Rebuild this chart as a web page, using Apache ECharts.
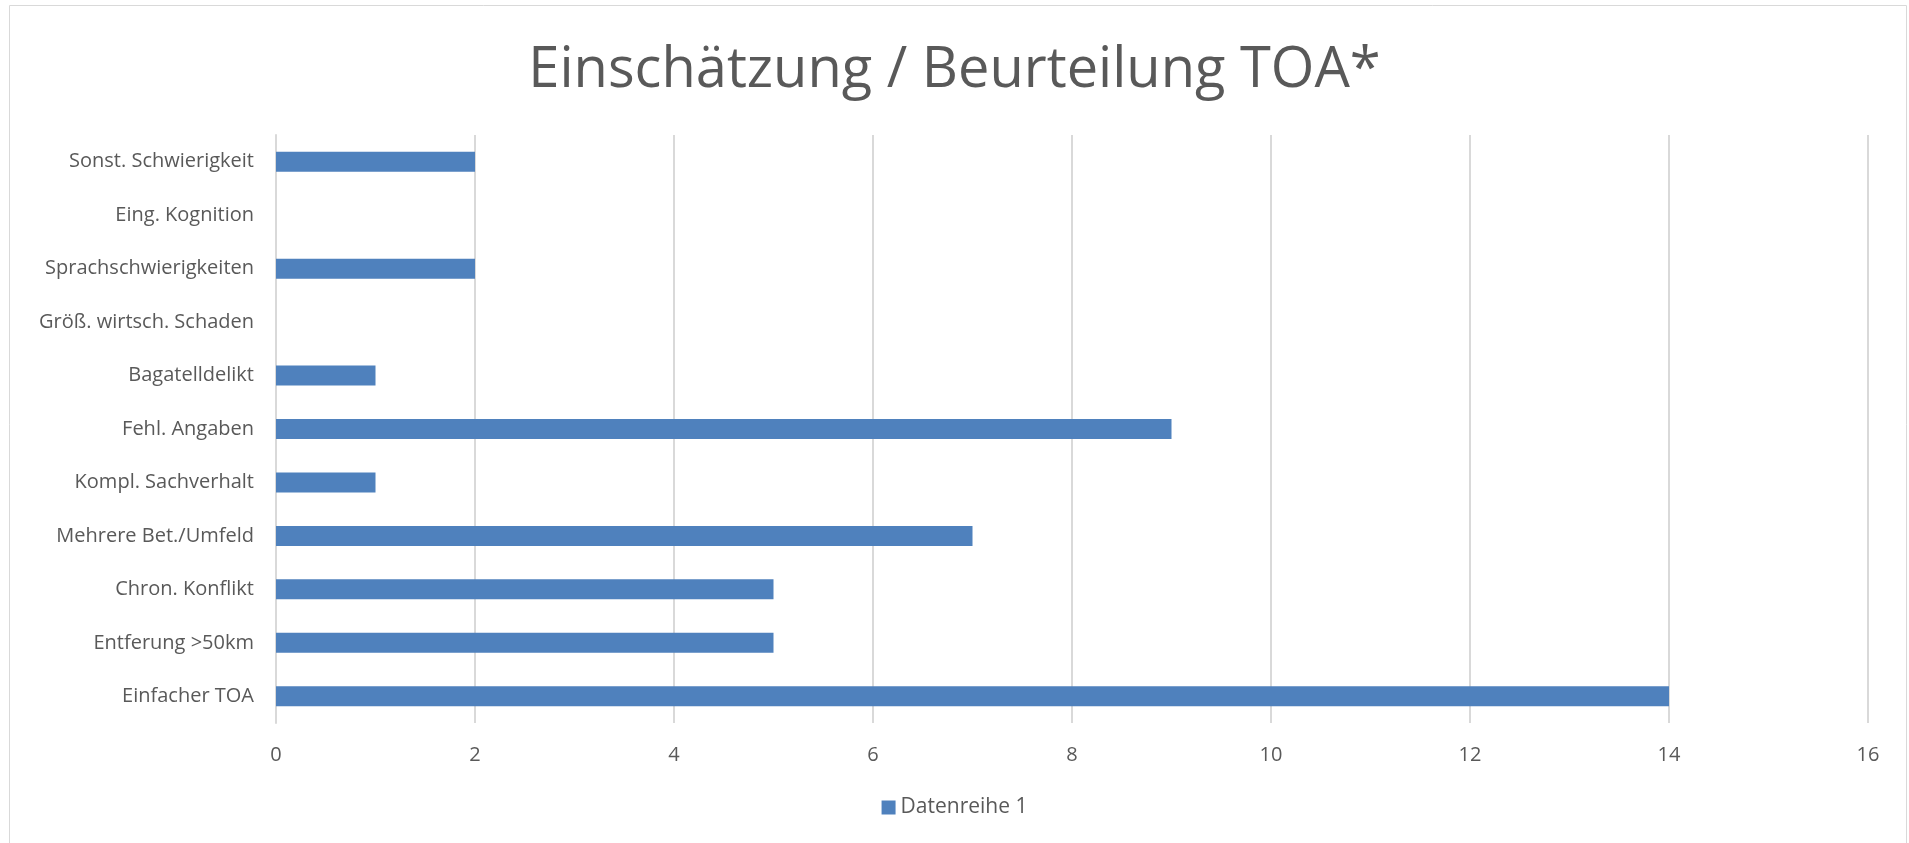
<!DOCTYPE html>
<html>
<head>
<meta charset="utf-8">
<script src="https://cdn.jsdelivr.net/npm/echarts@6/dist/echarts.min.js"></script>
<style>
  html, body { margin: 0; padding: 0; background: #fff; }
  #main { width: 1909px; height: 843px; }
</style>
</head>
<body>
<div id="main"></div>
<script>
// Kategorien von unten nach oben (wie ECharts die y-Achse aufbaut)
var categories = ['Einfacher TOA', 'Entferung >50km', 'Chron. Konflikt', 'Mehrere Bet./Umfeld',
  'Kompl. Sachverhalt', 'Fehl. Angaben', 'Bagatelldelikt', 'Größ. wirtsch. Schaden',
  'Sprachschwierigkeiten', 'Eing. Kognition', 'Sonst. Schwierigkeit'];
var values = [14, 5, 5, 7, 1, 9, 1, 0, 2, 0, 2];
var seriesName = 'Datenreihe 1';

var myChart = echarts.init(document.getElementById('main'));
var option = {
    textStyle: { fontFamily: 'Open Sans' },
    title: {
        text: 'Einschätzung / Beurteilung TOA*',
        left: 'center',
        top: 38,
        textStyle: {
            color: '#595959',
            fontSize: 56,
            fontWeight: 'normal',
            fontFamily: 'Open Sans'
        }
    },
    graphic: [{
        type: 'rect',
        shape: { x: 9.5, y: 5.5, width: 1897, height: 850 },
        style: { fill: 'none', stroke: '#d9d9d9', lineWidth: 1 },
        silent: true
    }],
    legend: {
        data: [seriesName],
        bottom: 20,
        left: 'center',
        icon: 'rect',
        itemWidth: 14,
        itemHeight: 14,
        itemGap: 6,
        textStyle: { color: '#595959', fontSize: 21 }
    },
    grid: {
        left: 276,
        right: 41,
        top: 135,
        height: 588
    },
    xAxis: {
        type: 'value',
        min: 0,
        max: 16,
        interval: 2,
        axisLine: { show: false },
        axisTick: { show: false },
        axisLabel: { color: '#595959', fontSize: 20, margin: 22 },
        splitLine: { lineStyle: { color: '#d9d9d9', width: 2 } }
    },
    yAxis: {
        type: 'category',
        data: categories,
        axisLine: { show: true, lineStyle: { color: '#d9d9d9', width: 2 } },
        axisTick: { show: false },
        axisLabel: { color: '#595959', fontSize: 20, margin: 22 }
    },
    series: [{
        name: seriesName,
        type: 'bar',
        data: values,
        barWidth: 20,
        itemStyle: {
            color: '#4f81bd'
        }
    }]
};
myChart.setOption(option);
</script>
</body>
</html>
